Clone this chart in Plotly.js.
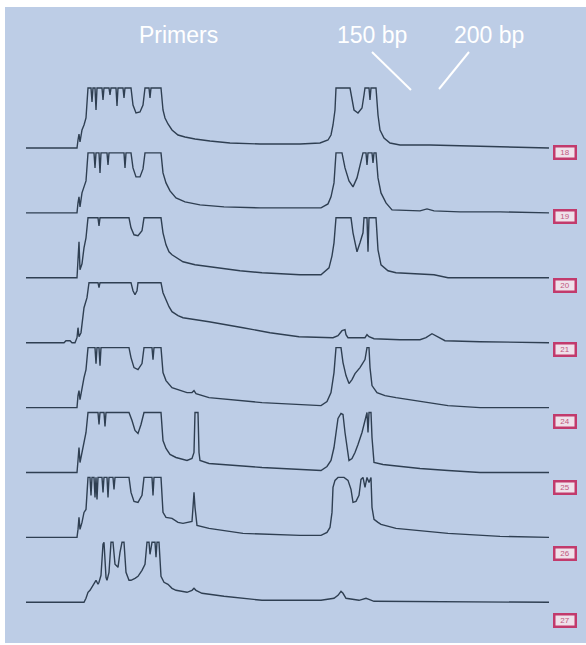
<!DOCTYPE html>
<html>
<head>
<meta charset="utf-8">
<script src="https://cdn.plot.ly/plotly-3.0.1.min.js"></script>
<style>html,body{margin:0;padding:0;background:#fff;}#chart{width:586px;height:645px;}</style>
</head>
<body>
<div id="chart"></div>
<script>
// Lane labels (top to bottom)
const laneLabels = ["18", "19", "20", "21", "24", "25", "26", "27"];
// Header annotations
const headerTexts = ["Primers", "150 bp", "200 bp"];

// Each lane: [scan position, signal] pairs (signal saturates at 60)
const lane18 = [[26,0],[77,0],[78,8],[79,14],[80,6],[82,18],[84,23],[86,30],[88,60],[91,60],[92,46],[93,60],[95,60],[96,38],[97,60],[102,60],[103,48],[104,60],[109,60],[110,53],[111,60],[116,60],[117,42],[118,60],[123,60],[124,50],[125,60],[131,60],[133,43],[136,35],[140,36],[143,43],[145,60],[149,60],[150,50],[151,60],[161,60],[163,38],[165,30],[168,24],[172,18],[178,13],[185,11],[195,9],[210,7],[230,5],[260,4],[300,4],[320,5],[328,8],[331,13],[333,23],[335,38],[336,60],[350,60],[352,48],[354,38],[358,35],[362,40],[364,53],[365,60],[369,60],[370,48],[371,60],[376,60],[378,33],[380,18],[384,10],[390,5],[400,3],[430,3],[470,2],[520,1],[549,0]];
const lane19 = [[26,0],[77,0],[78,10],[79,16],[80,6],[82,20],[84,26],[86,32],[88,60],[94,60],[95,45],[96,60],[99,60],[100,40],[101,60],[107,60],[108,48],[109,60],[124,60],[125,45],[126,60],[131,60],[133,45],[136,36],[140,36],[143,44],[145,60],[161,60],[163,40],[166,30],[170,22],[176,15],[185,11],[200,8],[224,6],[260,5],[300,5],[321,5],[328,9],[331,16],[334,30],[336,60],[342,60],[345,45],[349,32],[353,26],[357,35],[361,50],[363,60],[366,60],[367,48],[368,60],[372,60],[373,50],[374,60],[376,60],[378,35],[381,20],[386,10],[392,3],[410,2],[420,2],[427,4],[434,2],[460,1],[500,1],[549,0]];
const lane20 = [[26,0],[77,0],[78,18],[79,36],[80,8],[82,14],[84,30],[86,40],[88,60],[98,60],[99,52],[100,60],[129,60],[131,50],[134,43],[138,42],[142,47],[144,60],[161,60],[163,45],[166,33],[169,26],[172,23],[178,19],[183,16],[195,13],[209,11],[240,7],[262,5],[300,3],[321,3],[329,10],[332,22],[334,35],[336,60],[351,60],[353,45],[357,26],[360,35],[363,45],[364,60],[367,60],[368,26],[369,60],[376,60],[378,28],[381,13],[388,7],[396,5],[434,3],[448,0],[549,0]];
const lane21 = [[26,0],[64,0],[66,2],[70,2],[72,0],[75,0],[77,5],[78,15],[79,6],[81,10],[84,35],[87,45],[89,60],[98,60],[99,55],[100,60],[131,60],[133,52],[135,48],[137,52],[138,60],[161,60],[163,50],[166,43],[169,36],[172,31],[178,27],[183,25],[209,21],[243,15],[270,10],[299,6],[333,5],[338,7],[342,12],[345,13],[346,8],[348,5],[365,5],[367,8],[369,6],[374,4],[400,3],[420,3],[426,5],[432,9],[438,6],[445,2],[480,1],[549,0]];
const lane24 = [[26,0],[77,0],[78,12],[79,17],[80,8],[82,20],[84,30],[86,38],[88,60],[95,60],[96,44],[97,60],[99,60],[100,42],[101,60],[129,60],[131,50],[134,40],[138,38],[142,44],[144,60],[152,60],[153,48],[154,60],[161,60],[163,35],[166,27],[172,20],[180,17],[187,15],[192,15],[194,17],[196,14],[209,10],[262,5],[300,3],[321,2],[327,6],[331,15],[334,35],[336,60],[341,60],[343,45],[346,32],[349,24],[352,28],[355,34],[360,40],[365,48],[367,60],[369,60],[370,40],[372,22],[377,15],[385,12],[396,10],[420,6],[448,2],[480,0],[549,0]];
const lane25 = [[26,0],[77,0],[78,12],[79,25],[80,10],[82,20],[84,32],[86,40],[88,60],[98,60],[99,48],[100,60],[104,60],[105,46],[106,60],[129,60],[132,52],[135,42],[138,39],[141,48],[144,60],[161,60],[163,32],[166,24],[170,18],[176,15],[187,12],[192,14],[194,20],[195,60],[198,60],[199,20],[200,12],[209,9],[262,5],[321,2],[327,6],[331,12],[334,25],[336,40],[338,54],[341,59],[343,58],[345,40],[347,25],[349,12],[352,14],[355,20],[358,28],[362,40],[365,52],[367,60],[368,40],[369,60],[371,60],[372,35],[374,10],[383,8],[392,7],[420,4],[448,2],[480,0],[549,0]];
const lane26 = [[26,0],[77,0],[78,8],[79,20],[80,8],[82,15],[84,25],[86,28],[88,60],[90,60],[91,42],[92,60],[94,60],[95,40],[96,60],[97,38],[98,60],[102,60],[103,45],[104,60],[107,60],[108,40],[109,60],[113,60],[114,48],[115,60],[129,60],[131,45],[134,36],[138,35],[142,42],[144,60],[152,60],[153,42],[154,60],[161,60],[163,25],[166,20],[172,19],[178,15],[183,14],[189,15],[192,16],[193,30],[194,45],[195,30],[197,12],[209,9],[243,4],[300,2],[321,2],[327,5],[330,10],[332,25],[333,50],[335,57],[338,60],[344,60],[348,57],[351,48],[353,35],[356,36],[359,42],[361,58],[363,60],[365,50],[367,60],[369,55],[371,60],[372,30],[374,18],[378,15],[381,13],[396,9],[448,4],[500,1],[549,0]];
const lane27 = [[26,0],[84,0],[86,4],[88,10],[90,12],[92,15],[94,19],[96,22],[98,18],[99,20],[101,27],[103,58],[104,60],[106,25],[107,22],[109,30],[111,60],[113,60],[115,38],[118,35],[120,50],[122,60],[124,60],[126,30],[129,22],[131,22],[135,24],[138,26],[142,32],[145,38],[147,60],[149,60],[150,48],[152,60],[155,60],[156,45],[157,60],[159,60],[161,26],[164,20],[168,18],[172,14],[176,12],[187,10],[192,12],[194,14],[196,12],[202,9],[224,6],[262,2],[321,2],[334,4],[338,7],[341,11],[343,9],[346,4],[359,2],[366,4],[369,3],[374,1],[549,0]];

const lanes = [lane18, lane19, lane20, lane21, lane24, lane25, lane26, lane27];

// ---- layout geometry (pixels) ----
const W = 586, H = 645;
const M = {l: 5, r: 0, t: 7, b: 2};
const plotTop = M.t, plotBottom = H - M.b, plotH = plotBottom - plotTop;
const plotLeft = M.l, plotRight = W - M.r, plotW = plotRight - plotLeft;
const baseline0 = 148, laneStep = 64.9;
const yLo = -1.5, yHi = 61.5;
const labelY = [152, 216, 285, 350, 421, 487, 553, 620];
const labelX = 565;

const px2x = p => (p - plotLeft) / plotW;
const py2y = p => (plotBottom - p) / plotH;

const traces = [];
const layout = {
  width: W, height: H,
  margin: M,
  paper_bgcolor: '#ffffff',
  plot_bgcolor: 'rgba(0,0,0,0)',
  showlegend: false,
  xaxis: {range: [plotLeft, plotRight], visible: false, fixedrange: true, domain: [0, 1]},
  shapes: [
    {type: 'rect', xref: 'paper', yref: 'paper', x0: 0, x1: 1, y0: 0, y1: 1,
     fillcolor: '#bdcde6', line: {width: 0}, layer: 'below'},
    {type: 'line', xref: 'paper', yref: 'paper', x0: px2x(372), y0: py2y(52), x1: px2x(411), y1: py2y(90),
     line: {color: '#ffffff', width: 2}},
    {type: 'line', xref: 'paper', yref: 'paper', x0: px2x(469), y0: py2y(52), x1: px2x(439), y1: py2y(89),
     line: {color: '#ffffff', width: 2}}
  ],
  annotations: []
};

lanes.forEach((lane, k) => {
  const b = baseline0 + k * laneStep;
  const axName = k === 0 ? 'yaxis' : 'yaxis' + (k + 1);
  layout[axName] = {
    range: [yLo, yHi], visible: false, fixedrange: true,
    domain: [py2y(b - yLo), py2y(b - yHi)], anchor: 'x'
  };
  traces.push({
    type: 'scatter', mode: 'lines',
    x: lane.map(p => p[0]), y: lane.map(p => p[1]),
    xaxis: 'x', yaxis: k === 0 ? 'y' : 'y' + (k + 1),
    line: {color: '#2f3f52', width: 1.4},
    hoverinfo: 'skip'
  });
  layout.annotations.push({
    xref: 'paper', yref: 'paper', x: px2x(labelX), y: py2y(labelY[k]),
    xanchor: 'center', yanchor: 'middle', showarrow: false,
    text: laneLabels[k],
    font: {family: 'Liberation Sans, Arial, sans-serif', size: 8, color: '#c0587e'},
    bgcolor: '#efe1ea', bordercolor: '#c23a6c', borderwidth: 2.5, borderpad: 1,
    width: 17, height: 8
  });
});

const headerX = [178, 372, 489];
headerTexts.forEach((t, i) => {
  layout.annotations.push({
    xref: 'paper', yref: 'paper', x: px2x(headerX[i]), y: py2y(35),
    xanchor: 'center', yanchor: 'middle', showarrow: false,
    text: t, font: {family: 'Liberation Sans, Arial, sans-serif', size: 23, color: '#ffffff'}
  });
});

Plotly.newPlot('chart', traces, layout, {displayModeBar: false, staticPlot: true});
</script>
</body>
</html>
